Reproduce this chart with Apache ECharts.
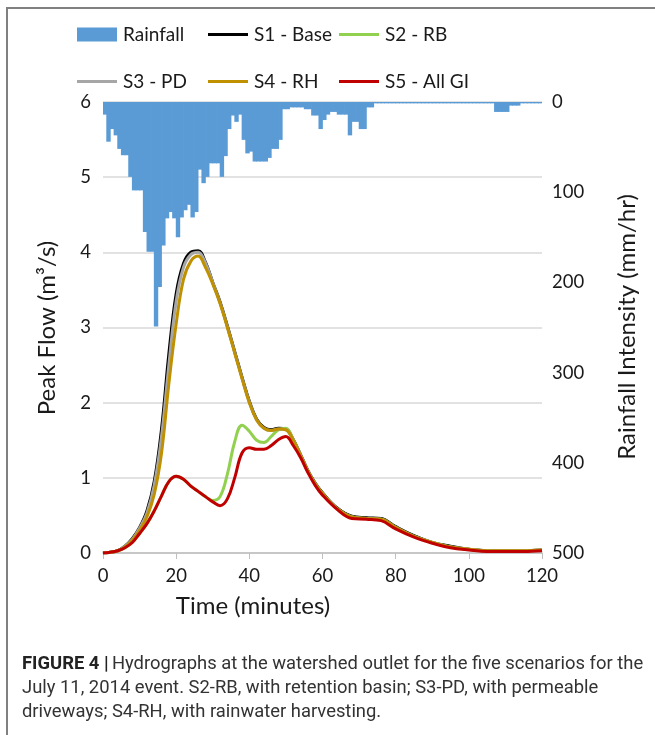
<!DOCTYPE html>
<html><head><meta charset="utf-8">
<script src="https://cdn.jsdelivr.net/npm/echarts@6/dist/echarts.min.js"></script>
<style>html,body{margin:0;padding:0;background:#fff}#c{width:655px;height:735px}</style>
</head><body><div id="c"></div>
<script>
// Rainfall intensity (mm/hr), one value per minute, minutes 0..119
const rainfall = [14,44,30,37,52,59,59,83,98,98,98,144,166,166,249,205,159,129,122,129,
  150,128,120,114,128,122,75,90,83,68,68,68,83,60,30,15,22,14,42,57,
  55,66,66,66,66,62,52,52,42,8,8,6,6,6,6,8,8,15,15,30,
  20,14,11,11,14,14,14,37,22,22,30,30,6,6,1.5,1.5,1.5,1.5,1.5,1.5,
  1.5,1.5,1.5,1.5,1.5,1.5,1.5,1.5,1.5,1.5,1.5,1.5,1.5,1.5,1.5,1.5,1.5,1.5,1.5,1.5,
  1.5,1.5,1.5,1.5,1.5,1.5,1.5,11,11,11,11,4,4,4,1.5,1.5,1.5,1.5,1.5,1.5];
const minuteCats = rainfall.map((v, i) => String(i));
// Hydrograph sample times (minutes)
const times = [0,2,4,6,8,10,12,14,16,18,20,22,24,26,28,30,32,34,36,38,40,42,44,46,48,50,52,54,56,58,60,64,68,72,76,80,85,90,95,100,105,110,115,120];
const s1Base = [0,0.01,0.03,0.09,0.19,0.34,0.56,0.95,1.65,2.65,3.45,3.85,4.0,4.02,3.87,3.6,3.34,3.02,2.68,2.34,2.02,1.78,1.67,1.64,1.66,1.65,1.51,1.31,1.10,0.93,0.80,0.60,0.49,0.47,0.46,0.35,0.23,0.14,0.09,0.05,0.03,0.03,0.03,0.04];
const s2RB = [0,0.01,0.03,0.07,0.14,0.26,0.39,0.56,0.76,0.95,1.02,0.98,0.89,0.82,0.75,0.70,0.75,1.05,1.48,1.70,1.62,1.50,1.47,1.55,1.64,1.66,1.51,1.30,1.09,0.92,0.79,0.59,0.48,0.46,0.45,0.34,0.22,0.14,0.08,0.05,0.03,0.03,0.03,0.04];
const s3PD = [0,0.01,0.03,0.09,0.18,0.33,0.53,0.9,1.55,2.5,3.35,3.8,3.97,4.0,3.86,3.6,3.33,3.01,2.67,2.33,2.01,1.77,1.66,1.63,1.65,1.64,1.5,1.3,1.09,0.92,0.79,0.59,0.48,0.46,0.45,0.34,0.22,0.14,0.08,0.05,0.03,0.03,0.03,0.04];
const s4RH = [0,0.01,0.03,0.08,0.17,0.3,0.48,0.78,1.33,2.25,3.05,3.64,3.88,3.95,3.8,3.58,3.32,3.0,2.66,2.32,2.0,1.77,1.66,1.63,1.65,1.64,1.50,1.30,1.09,0.92,0.79,0.59,0.48,0.46,0.45,0.34,0.22,0.14,0.08,0.05,0.03,0.03,0.03,0.04];
const s5AllGI = [0,0.01,0.03,0.07,0.14,0.26,0.39,0.56,0.76,0.95,1.02,0.98,0.89,0.82,0.75,0.68,0.63,0.72,1.0,1.33,1.40,1.38,1.38,1.43,1.51,1.55,1.43,1.27,1.07,0.9,0.77,0.58,0.46,0.45,0.43,0.32,0.21,0.13,0.07,0.04,0.02,0.02,0.02,0.03];
const flowTicks = [0,1,2,3,4,5,6];
const rainTicks = [0,100,200,300,400,500];
const timeTicks = [0,20,40,60,80,100,120];

const FONT = 'Lato';
const CAP = 'Roboto';
const pair = arr => times.map((t, i) => [t, arr[i]]);
const chart = echarts.init(document.getElementById('c'), null, {renderer: 'canvas'});
const lineSeries = (name, data, color, w) => ({
  name, type: 'line', xAxisIndex: 0, yAxisIndex: 0, data: pair(data),
  showSymbol: false, smooth: 0.4, lineStyle: {color, width: w}, itemStyle: {color}, z: 3
});
const legendItem = (name, left, top, icon, h) => ({
  data: [name], left, top, padding: 0, icon, itemWidth: 40, itemHeight: h, itemGap: 0, selectedMode: false,
  textStyle: {fontFamily: FONT, fontSize: 19, color: '#1a1a1a', padding: [0, 0, 0, 1]}
});
chart.setOption({
  animation: false,
  backgroundColor: '#fff',
  grid: {left: 103, right: 113, top: 102, bottom: 182},
  legend: [
    legendItem('Rainfall', 77, 25, 'rect', 14),
    legendItem('S1 - Base', 208, 25, 'rect', 3),
    legendItem('S2 - RB', 339, 25, 'rect', 3),
    legendItem('S3 - PD', 77, 72, 'rect', 3),
    legendItem('S4 - RH', 208, 72, 'rect', 3),
    legendItem('S5 - All GI', 339, 72, 'rect', 3)
  ],
  xAxis: [
    {type: 'value', min: timeTicks[0], max: timeTicks[timeTicks.length-1], interval: 20,
     axisLine: {show: true, lineStyle: {color: '#bfbfbf', width: 1.5}},
     axisTick: {show: true, length: 6, lineStyle: {color: '#bfbfbf'}},
     splitLine: {show: false},
     axisLabel: {fontFamily: FONT, fontSize: 18.5, color: '#1a1a1a', margin: 14}},
    {type: 'category', data: minuteCats, show: false, boundaryGap: true}
  ],
  yAxis: [
    {type: 'value', min: flowTicks[0], max: flowTicks[flowTicks.length-1], interval: 1,
     axisLine: {show: false}, axisTick: {show: false},
     splitLine: {lineStyle: {color: '#d9d9d9', width: 1.5}},
     axisLabel: {fontFamily: FONT, fontSize: 18.5, color: '#1a1a1a', margin: 12}},
    {type: 'value', min: rainTicks[0], max: rainTicks[rainTicks.length-1], interval: 100, inverse: true,
     position: 'right', axisLine: {show: false}, axisTick: {show: false}, splitLine: {show: false},
     axisLabel: {fontFamily: FONT, fontSize: 18.5, color: '#1a1a1a', margin: 10}}
  ],
  series: [
    {name: 'Rainfall', type: 'bar', xAxisIndex: 1, yAxisIndex: 1, data: rainfall,
     barWidth: 4.4, itemStyle: {color: '#5b9bd5'}, z: 2},
    lineSeries('S1 - Base', s1Base, '#000000', 3),
    lineSeries('S2 - RB', s2RB, '#92d050', 3),
    lineSeries('S3 - PD', s3PD, '#a6a6a6', 3),
    lineSeries('S4 - RH', s4RH, '#bf9000', 3),
    lineSeries('S5 - All GI', s5AllGI, '#c00000', 3)
  ],
  graphic: [
    {type: 'line', shape: {x1: 7, y1: 8, x2: 7, y2: 735}, style: {stroke: '#808080', lineWidth: 2}},
    {type: 'line', shape: {x1: 6, y1: 8, x2: 655, y2: 8}, style: {stroke: '#808080', lineWidth: 2}},
    {type: 'text', x: 47, y: 328, rotation: Math.PI/2,
     style: {text: 'Peak Flow (m³/s)', fontFamily: FONT, fontSize: 24, fill: '#1a1a1a', align: 'center', verticalAlign: 'middle'}},
    {type: 'text', x: 627, y: 327, rotation: Math.PI/2,
     style: {text: 'Rainfall Intensity (mm/hr)', fontFamily: FONT, fontSize: 24, fill: '#1a1a1a', align: 'center', verticalAlign: 'middle'}},
    {type: 'text', x: 253, y: 606,
     style: {text: 'Time (minutes)', fontFamily: FONT, fontSize: 24, fill: '#1a1a1a', align: 'center', verticalAlign: 'middle'}},
    {type: 'text', x: 22, y: 664,
     style: {rich: {b: {fontFamily: CAP, fontWeight: 'bold', fontSize: 18.4, fill: '#222'},
                    n: {fontFamily: CAP, fontSize: 18.4, fill: '#333'}},
             text: '{b|FIGURE 4 |} {n|Hydrographs at the watershed outlet for the five scenarios for the}', verticalAlign: 'middle'}},
    {type: 'text', x: 22, y: 688,
     style: {text: 'July 11, 2014 event. S2-RB, with retention basin; S3-PD, with permeable', fontFamily: CAP, fontSize: 18.4, fill: '#333', verticalAlign: 'middle'}},
    {type: 'text', x: 22, y: 712,
     style: {text: 'driveways; S4-RH, with rainwater harvesting.', fontFamily: CAP, fontSize: 18.4, fill: '#333', verticalAlign: 'middle'}}
  ]
});
</script></body></html>
